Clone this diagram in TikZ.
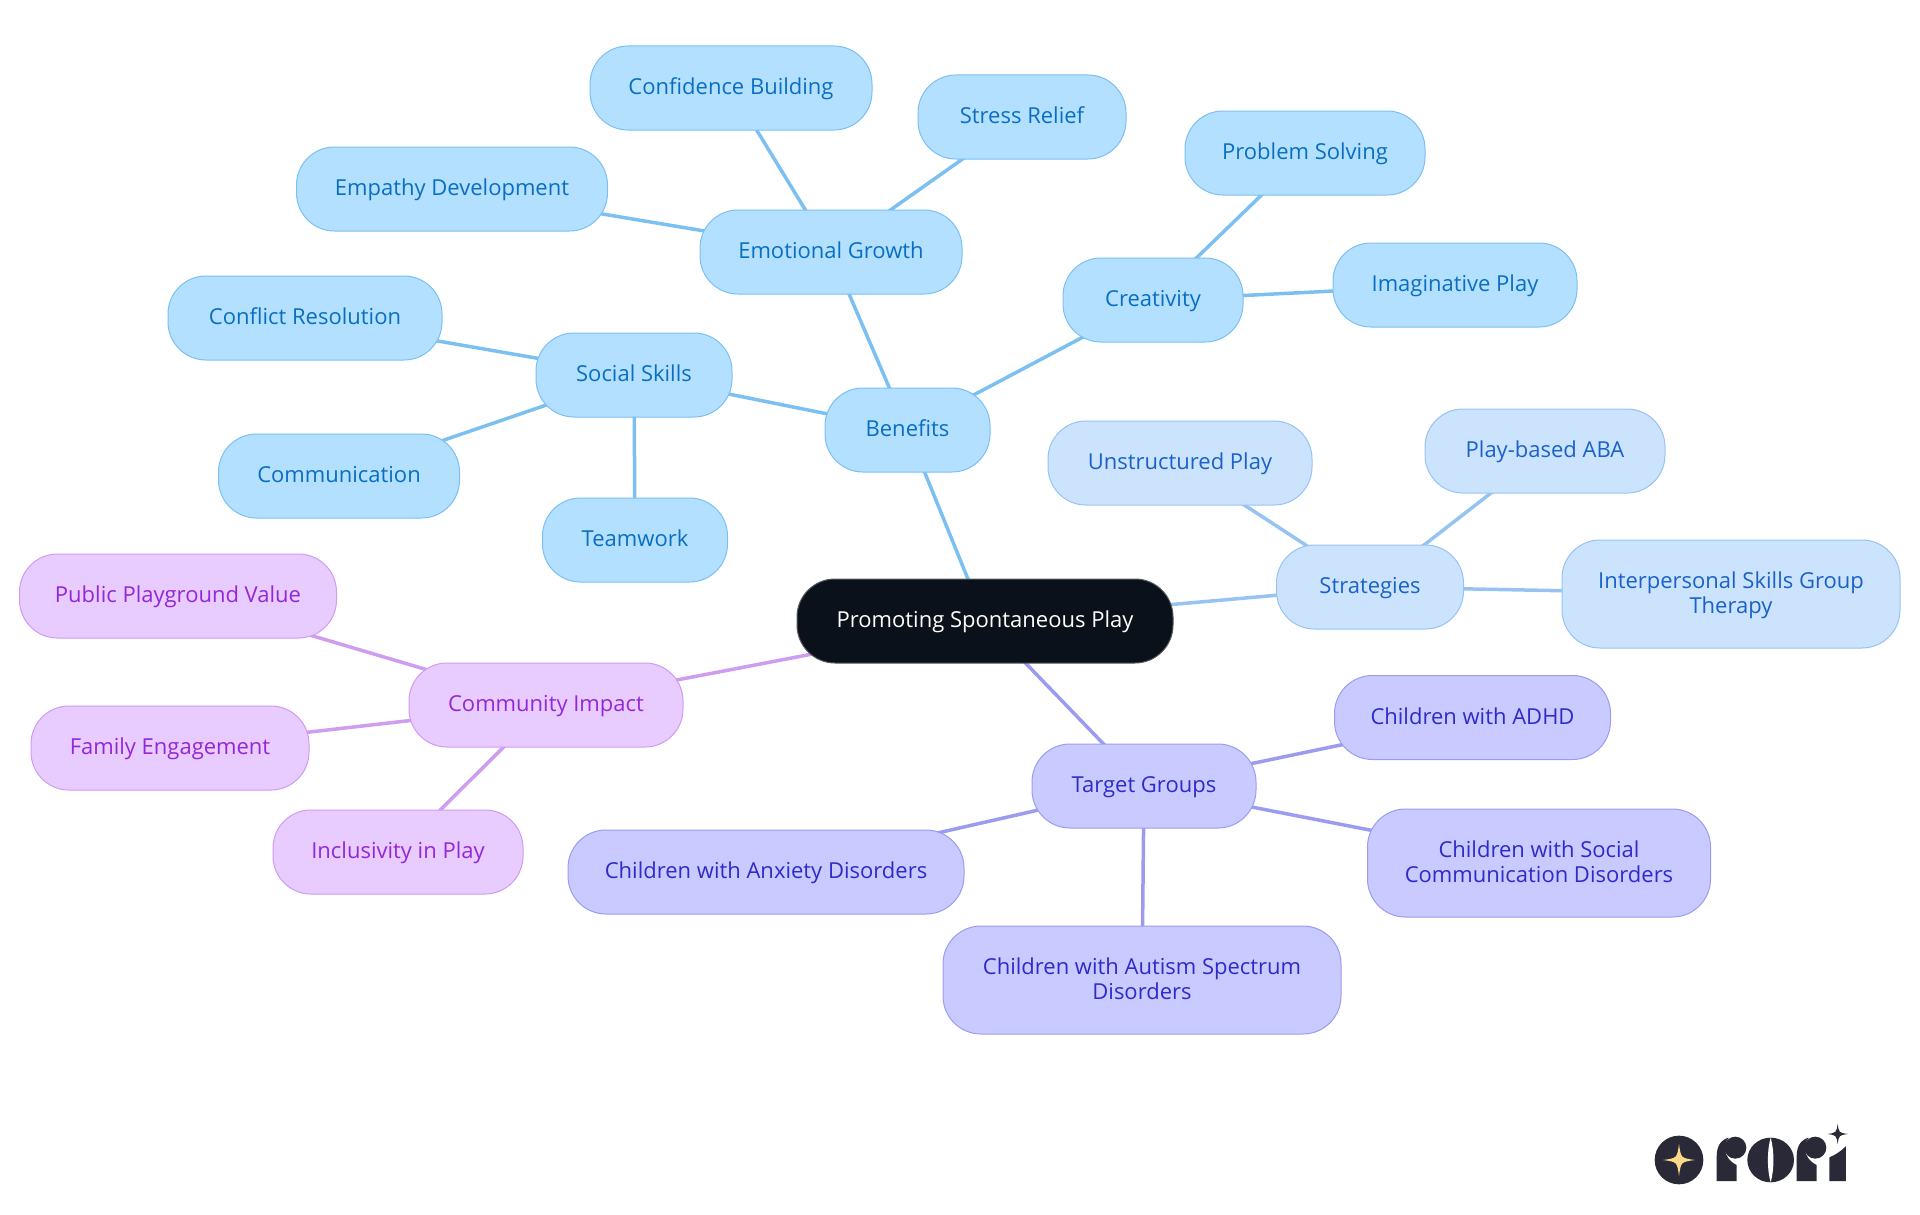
\documentclass[tikz,border=0pt]{standalone}
\usepackage{fontspec}
\setmainfont{Open Sans}
\usepackage{tikz}
\usetikzlibrary{positioning,backgrounds}

\definecolor{benefitfill}{HTML}{B3E0FF}
\definecolor{benefitedge}{HTML}{7CC0F2}
\definecolor{benefittext}{HTML}{0A6FC2}
\definecolor{strategyfill}{HTML}{CCE3FD}
\definecolor{strategyedge}{HTML}{96C3F2}
\definecolor{strategytext}{HTML}{1A62C9}
\definecolor{targetfill}{HTML}{C9CAFF}
\definecolor{targetedge}{HTML}{9B9CF0}
\definecolor{targettext}{HTML}{2F2BCB}
\definecolor{communityfill}{HTML}{E8CBFF}
\definecolor{communityedge}{HTML}{CF9CF0}
\definecolor{communitytext}{HTML}{9328D8}
\definecolor{rootfill}{HTML}{0B111A}
\definecolor{logodark}{HTML}{2A2938}
\definecolor{logostar}{HTML}{FFD98A}

\tikzset{
	bubble/.style={rectangle, rounded corners=38pt, line width=1pt, inner sep=0pt, minimum height=84pt, text height=15.5pt, text depth=2pt, align=center, font=\fontsize{22}{24.5}\selectfont},
	twolines/.style={minimum height=108pt, text height=40pt, text depth=2pt},
	rootnode/.style={bubble, draw=black!65, fill=rootfill, text=white},
	benefitnode/.style={bubble, draw=benefitedge, fill=benefitfill, text=benefittext},
	strategynode/.style={bubble, draw=strategyedge, fill=strategyfill, text=strategytext},
	targetnode/.style={bubble, draw=targetedge, fill=targetfill, text=targettext},
	communitynode/.style={bubble, draw=communityedge, fill=communityfill, text=communitytext},
	link/.style={line width=3.5pt},
}
\newcommand{\sparkle}[4]{\fill[#4] (#1,#2-#3) .. controls (#1+#3*0.12,#2-#3*0.12) .. (#1+#3,#2) .. controls (#1+#3*0.12,#2+#3*0.12) .. (#1,#2+#3) .. controls (#1-#3*0.12,#2+#3*0.12) .. (#1-#3,#2) .. controls (#1-#3*0.12,#2-#3*0.12) .. cycle;}

\begin{document}
\begin{tikzpicture}[on grid]
	\useasboundingbox (0pt,0pt) rectangle (1920pt,-1215pt);

	\node[rootnode, minimum width=376pt] (play) at (985pt,-621pt) {Promoting Spontaneous Play};

	\node[benefitnode, minimum width=165pt, above left=191pt and 77.5pt of play] (benefits) {Benefits};
	\node[strategynode, minimum width=187pt, above right=34pt and 385pt of play] (strategies) {Strategies};
	\node[targetnode, minimum width=224pt, below right=165pt and 159pt of play] (target) {Target Groups};
	\node[communitynode, minimum width=274pt, below left=84pt and 439pt of play] (community) {Community Impact};

	\node[benefitnode, minimum width=196pt, above left=55pt and 273.5pt of benefits] (social) {Social Skills};
	\node[benefitnode, minimum width=262pt, above left=178pt and 76.5pt of benefits] (emotional) {Emotional Growth};
	\node[benefitnode, minimum width=180pt, above right=130pt and 245.5pt of benefits] (creativity) {Creativity};

	\node[benefitnode, minimum width=274pt, above left=57pt and 329pt of social] (conflict) {Conflict Resolution};
	\node[benefitnode, minimum width=241pt, below left=101pt and 295pt of social] (communication) {Communication};
	\node[benefitnode, minimum width=185pt, below right=165pt and 1pt of social] (teamwork) {Teamwork};

	\node[benefitnode, minimum width=311pt, above left=63pt and 379pt of emotional] (empathy) {Empathy Development};
	\node[benefitnode, minimum width=282pt, above left=164pt and 100pt of emotional] (confidence) {Confidence Building};
	\node[benefitnode, minimum width=208pt, above right=135pt and 191pt of emotional] (stress) {Stress Relief};

	\node[benefitnode, minimum width=240pt, above right=147pt and 152pt of creativity] (problem) {Problem Solving};
	\node[benefitnode, minimum width=244pt, above right=15pt and 302pt of creativity] (imaginative) {Imaginative Play};

	\node[strategynode, minimum width=264pt, above left=124pt and 190pt of strategies] (unstructured) {Unstructured Play};
	\node[strategynode, minimum width=240pt, above right=136pt and 175pt of strategies] (aba) {Play-based ABA};
	\node[strategynode, twolines, minimum width=338pt, below right=7pt and 361pt of strategies] (interpersonal) {Interpersonal Skills Group\\Therapy};

	\node[targetnode, minimum width=276pt, above right=68.5pt and 328.5pt of target] (adhd) {Children with ADHD};
	\node[targetnode, twolines, minimum width=343pt, below right=77pt and 395pt of target] (socialdis) {Children with Social\\Communication Disorders};
	\node[targetnode, twolines, minimum width=398pt, below left=194pt and 2pt of target] (autism) {Children with Autism Spectrum\\Disorders};
	\node[targetnode, minimum width=396pt, below left=86pt and 378pt of target] (anxiety) {Children with Anxiety Disorders};

	\node[communitynode, minimum width=317pt, above left=109pt and 368pt of community] (public) {Public Playground Value};
	\node[communitynode, minimum width=278pt, below left=43pt and 376pt of community] (family) {Family Engagement};
	\node[communitynode, minimum width=250pt, below left=147pt and 148pt of community] (inclusivity) {Inclusivity in Play};

	\begin{pgfonlayer}{background}
		\draw[link, benefitedge] (play.center) -- (benefits.center);
		\draw[link, benefitedge] (benefits.center) -- (social.center);
		\draw[link, benefitedge] (benefits.center) -- (emotional.center);
		\draw[link, benefitedge] (benefits.center) -- (creativity.center);
		\draw[link, benefitedge] (social.center) -- (conflict.center);
		\draw[link, benefitedge] (social.center) -- (communication.center);
		\draw[link, benefitedge] (social.center) -- (teamwork.center);
		\draw[link, benefitedge] (emotional.center) -- (empathy.center);
		\draw[link, benefitedge] (emotional.center) -- (confidence.center);
		\draw[link, benefitedge] (emotional.center) -- (stress.center);
		\draw[link, benefitedge] (creativity.center) -- (problem.center);
		\draw[link, benefitedge] (creativity.center) -- (imaginative.center);

		\draw[link, strategyedge] (play.center) -- (strategies.center);
		\draw[link, strategyedge] (strategies.center) -- (unstructured.center);
		\draw[link, strategyedge] (strategies.center) -- (aba.center);
		\draw[link, strategyedge] (strategies.center) -- (interpersonal.center);

		\draw[link, targetedge] (play.center) -- (target.center);
		\draw[link, targetedge] (target.center) -- (adhd.center);
		\draw[link, targetedge] (target.center) -- (socialdis.center);
		\draw[link, targetedge] (target.center) -- (autism.center);
		\draw[link, targetedge] (target.center) -- (anxiety.center);

		\draw[link, communityedge] (play.center) -- (community.center);
		\draw[link, communityedge] (community.center) -- (public.center);
		\draw[link, communityedge] (community.center) -- (family.center);
		\draw[link, communityedge] (community.center) -- (inclusivity.center);
	\end{pgfonlayer}

	% logo
	\begin{scope}[shift={(1620pt,-1100pt)}, x=0.3333pt, y=-0.3333pt]
		\fill[logodark] (177,180) circle [radius=73];
		\sparkle{177}{180}{48}{logostar}
		\fill[logodark] (290,243) -- (290,170) .. controls (290,135) and (305,118) .. (327,113) .. controls (308,130) and (308,175) .. (350,195) -- (350,243) -- cycle;
		\fill[logodark] (346,143) circle [radius=33];
		\fill[logodark] (452,180) ellipse [x radius=70, y radius=67];
		\fill[white] (452,113) .. controls (441,150) and (441,210) .. (452,247) .. controls (463,210) and (463,150) .. (452,113);
		\fill[logodark] (530,243) -- (530,170) .. controls (530,135) and (545,118) .. (567,113) .. controls (548,130) and (548,175) .. (590,195) -- (590,243) -- cycle;
		\fill[logodark] (586,143) circle [radius=33];
		\fill[logodark] (628,243) -- (628,172) .. controls (645,165) and (662,155) .. (678,138) -- (678,243) -- cycle;
		\sparkle{653}{102}{31}{logodark}
	\end{scope}
\end{tikzpicture}
\end{document}
